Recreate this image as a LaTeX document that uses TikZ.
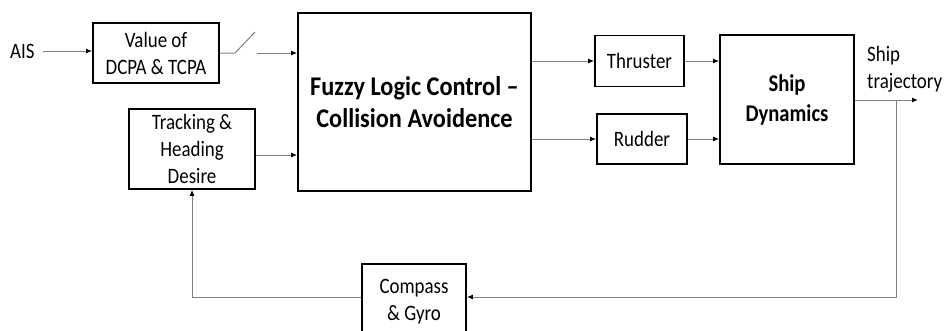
\documentclass[tikz,border=0pt]{standalone}
\usepackage{fontspec}
\setmainfont{Carlito}
\newfontfamily\regfont{Carlito}[FakeStretch=0.86]
\newfontfamily\boldfont{Carlito}[FakeStretch=0.9]
\usetikzlibrary{arrows.meta}
\definecolor{wire}{RGB}{128,128,128}
\tikzset{
  blk/.style={draw=black, line width=1.8pt, rectangle, inner sep=0pt, align=center,
              font=\regfont\fontsize{22}{27}\selectfont},
  lbl/.style={inner sep=0pt, align=left, font=\regfont\fontsize{22}{27}\selectfont},
  wireln/.style={draw=wire, line width=1pt},
  arr/.style={wireln, -{Latex[black,length=6pt,width=5pt]}}
}
\begin{document}
\begin{tikzpicture}[x=1pt,y=-1pt]
\useasboundingbox (0,0) rectangle (952,330);
% boxes
\node[blk, minimum width=126pt, minimum height=60pt] (val) at (156,53) {Value of\\DCPA \& TCPA};
\node[blk, minimum width=126pt, minimum height=80pt] (trk) at (192,149) {Tracking \&\\Heading\\Desire};
\node[blk, minimum width=233pt, minimum height=178pt, font=\boldfont\bfseries\fontsize{27}{32}\selectfont] (flc) at (414.5,102) {Fuzzy Logic Control –\\Collision Avoidence};
\node[blk, minimum width=89pt, minimum height=51pt] (thr) at (639.5,61) {Thruster};
\node[blk, minimum width=90pt, minimum height=50pt] (rud) at (642,139) {Rudder};
\node[blk, minimum width=134pt, minimum height=129pt, font=\regfont\bfseries\fontsize{24}{30}\selectfont] (sd) at (787,99.5) {Ship\\Dynamics};
\node[blk, minimum width=104pt, minimum height=76pt] (cmp) at (414,302) {Compass\\\& Gyro};
% labels
\node[lbl, anchor=west] (ais) at (10,51) {AIS};
\node[lbl, anchor=north west] (traj) at (867,46) {Ship\\trajectory};
% coordinates
\coordinate (s1) at (235,53);
\coordinate (s2) at (255,32);
\coordinate (s3) at (257,53);
\coordinate (out) at (918,100);
\coordinate (tap) at (896,100);
\coordinate (br) at (896,297);
\coordinate (bl) at (192,297);
% connectors
\draw[arr] (ais.east) ++(8pt,0) coordinate (a0) -- (val.west |- a0);
\draw[wireln] (val.east |- s1) -- (s1) -- (s2);
\draw[arr] (s3) -- (flc.west |- s3);
\draw[arr] (trk.east |- 0,155) -- (flc.west |- 0,155);
\draw[arr] (flc.east |- thr.west) -- (thr.west);
\draw[arr] (flc.east |- rud.west) -- (rud.west);
\draw[arr] (thr.east) -- (sd.west |- thr.east);
\draw[arr] (rud.east) -- (sd.west |- rud.east);
\draw[arr] (sd.east |- out) -- (out);
\draw[arr] (tap) -- (br) -- (cmp.east |- br);
\draw[arr] (cmp.west |- bl) -- (bl) -- (bl |- trk.south);
\end{tikzpicture}
\end{document}
